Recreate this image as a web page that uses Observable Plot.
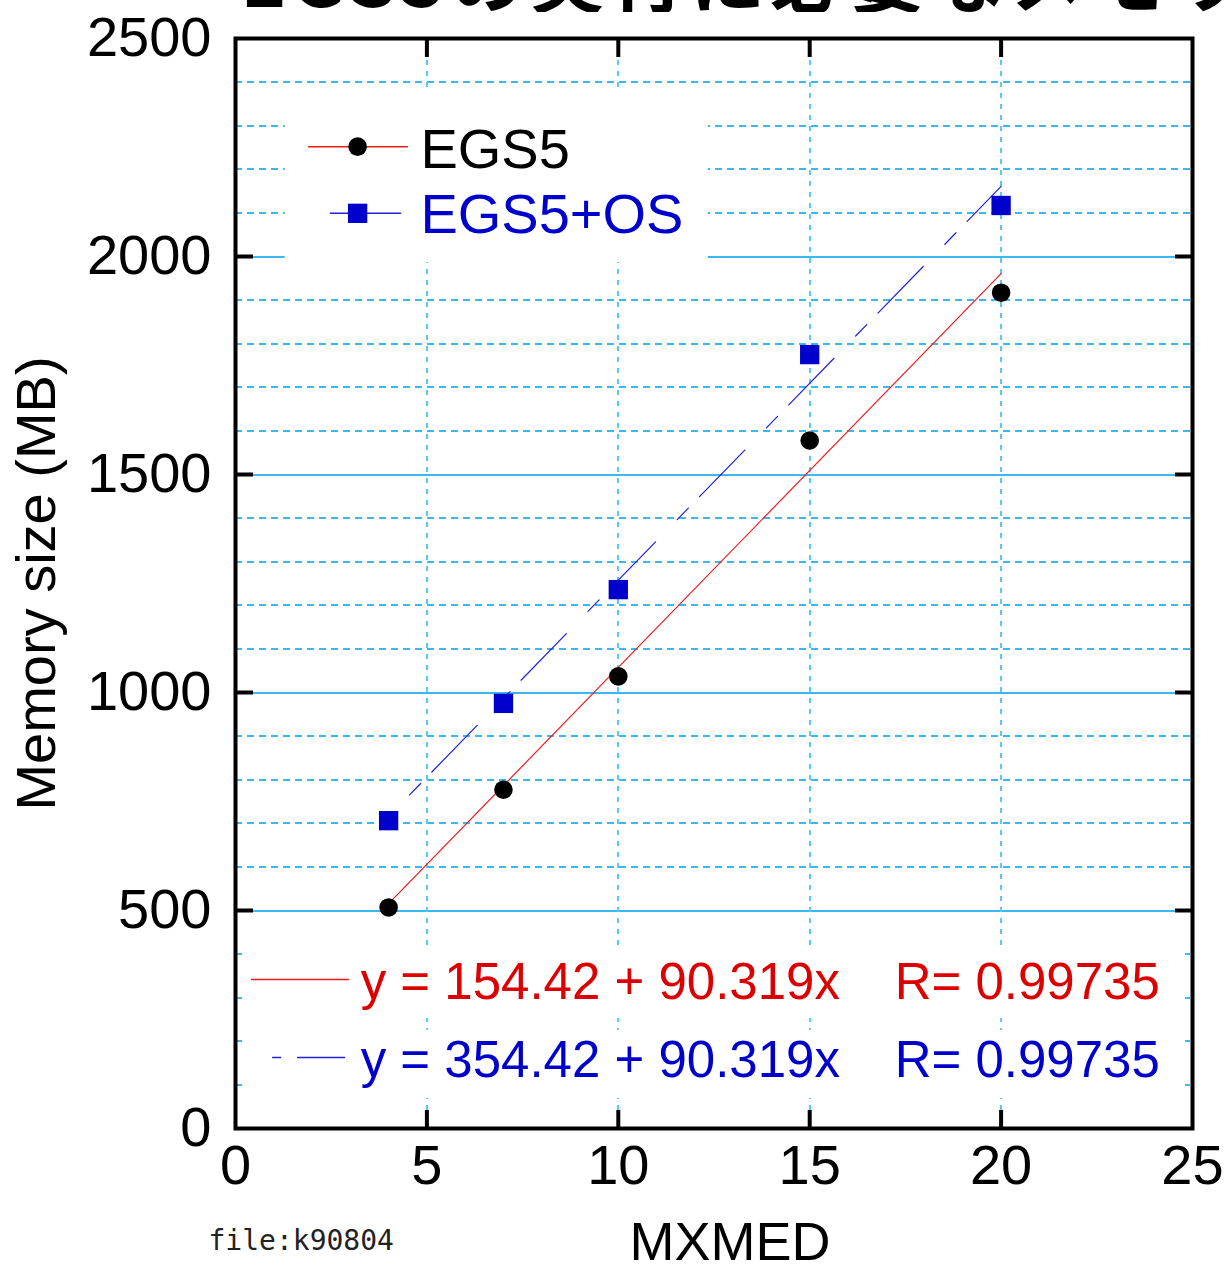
<!DOCTYPE html>
<html>
<head>
<meta charset="utf-8">
<script src="https://cdn.jsdelivr.net/npm/d3@7"></script>
<script src="https://cdn.jsdelivr.net/npm/@observablehq/plot@0.6"></script>
<style>
  html, body { margin: 0; padding: 0; background: #fff; }
  #wrap { position: relative; width: 1227px; height: 1270px; overflow: hidden; }
  #title { position: absolute; left: 0; top: 0; width: 1227px; height: 12px; overflow: hidden; z-index: 2; }
  #title span { position: absolute; left: 240px; top: -64px; font: bold 76px "Noto Sans CJK JP"; letter-spacing: 4px; white-space: nowrap; color: #000; line-height: 1; }
  #chart { position: absolute; left: 0; top: 0; }
</style>
</head>
<body>
<div id="wrap">
  <div id="title"><span>EGS5の実行に必要なメモリ</span></div>
  <div id="chart"></div>
</div>
<script>
// ---- data ----
const xTicks = [0, 5, 10, 15, 20, 25];
const yTicks = [0, 500, 1000, 1500, 2000, 2500];
const xInner = [5, 10, 15, 20];
const yInner = [500, 1000, 1500, 2000];
const yMinor = [100, 200, 300, 400, 600, 700, 800, 900, 1100, 1200, 1300, 1400, 1600, 1700, 1800, 1900, 2100, 2200, 2300, 2400];
const mxmed = [4, 7, 10, 15, 20];
const egs5 = [507, 777, 1037, 1578, 1917];
const egs5os = [706, 975, 1236, 1775, 2117];
const seriesNames = ["EGS5", "EGS5+OS"];
const intercepts = [154.42, 354.42];
const slope = 90.319;
const rValues = [0.99735, 0.99735];
const fitRange = [4, 20];

const RED = "#ee1c1c", BLUE = "#0000cc", GRID = "#3ab9f0";
const dash = "65,31,16,16";

const pts = (ys) => mxmed.map((x, i) => ({x, y: ys[i]}));
const fit = (b) => fitRange.map(x => ({x, y: b + slope * x}));

const eqText = intercepts.map(b => `y = ${b.toFixed(2)} + ${slope}x`);
const rText = rValues.map(r => `R= ${r}`);
const fmt = d3.format("d");

const chart = Plot.plot({
  width: 1227,
  height: 1270,
  marginLeft: 235,
  marginRight: 35,
  marginTop: 38,
  marginBottom: 142,
  style: {fontFamily: "Liberation Sans, Arial, sans-serif", background: "white", color: "black"},
  x: {domain: [0, 25]},
  y: {domain: [0, 2500]},
  marks: [
    // grid
    Plot.ruleY(yMinor, {stroke: GRID, strokeWidth: 2, strokeDasharray: "7,5", shapeRendering: "crispEdges"}),
    Plot.ruleY(yInner, {stroke: GRID, strokeWidth: 2, shapeRendering: "crispEdges"}),
    Plot.ruleX(xInner, {stroke: "#5cc8f4", strokeWidth: 2, strokeDasharray: "5,6", shapeRendering: "crispEdges"}),
    // white boxes behind legend and equations
    Plot.rect([0], {x1: 1.3, x2: 12.35, y1: 1986, y2: 2374, fill: "white"}),
    Plot.rect([0], {x1: 0.26, x2: 24.82, y1: 252, y2: 417, fill: "white"}),
    Plot.rect([0], {x1: 0.26, x2: 24.82, y1: 69, y2: 225, fill: "white"}),
    // fit lines
    Plot.line(fit(intercepts[0]), {x: "x", y: "y", stroke: RED, strokeWidth: 1.2}),
    Plot.line(fit(intercepts[1]), {x: "x", y: "y", stroke: "#2020dd", strokeWidth: 1.2, strokeDasharray: dash, strokeDashoffset: 66}),
    // data points
    Plot.dot(pts(egs5), {x: "x", y: "y", r: 9.3, fill: "black"}),
    Plot.dot(pts(egs5os), {x: "x", y: "y", r: 10.9, symbol: "square", fill: BLUE}),
    // frame & inner ticks
    Plot.frame({stroke: "black", strokeWidth: 4}),
    Plot.axisX(xInner, {anchor: "bottom", tickSize: -18, strokeWidth: 4, text: null, label: null}),
    Plot.axisX(xInner, {anchor: "top", tickSize: -18, strokeWidth: 4, text: null, label: null}),
    Plot.axisY(yInner, {anchor: "left", tickSize: -18, strokeWidth: 4, text: null, label: null}),
    Plot.axisY(yInner, {anchor: "right", tickSize: -18, strokeWidth: 4, text: null, label: null}),
    // tick labels
    Plot.axisY(yTicks, {anchor: "left", tickSize: 0, tickPadding: 24, fontSize: 56, label: null, tickFormat: fmt}),
    Plot.axisX(xTicks, {anchor: "bottom", tickSize: 0, tickPadding: 16, fontSize: 56, label: null, tickFormat: fmt}),
    // axis titles
    Plot.text(["Memory size (MB)"], {frameAnchor: "left", dx: -198, rotate: -90, fontSize: 56, textAnchor: "middle", lineAnchor: "middle"}),
    Plot.text(["MXMED"], {frameAnchor: "bottom", dx: 16, dy: 114, fontSize: 54, textAnchor: "middle", lineAnchor: "middle"}),
    Plot.text(["file:k90804"], {frameAnchor: "bottom-left", dx: -27, dy: 113, fontSize: 28, textAnchor: "start", lineAnchor: "middle", fontFamily: "DejaVu Sans Mono", fill: "#222"}),
    // legend
    Plot.line([{x: 1.91, y: 2252}, {x: 4.49, y: 2252}], {x: "x", y: "y", stroke: RED, strokeWidth: 1.5}),
    Plot.dot([{x: 3.19, y: 2252}], {x: "x", y: "y", r: 9.3, fill: "black"}),
    Plot.text([seriesNames[0]], {x: 4.83, y: 2243, fontSize: 56, textAnchor: "start", lineAnchor: "middle", fill: "black"}),
    Plot.line([{x: 2.48, y: 2099}, {x: 4.31, y: 2099}], {x: "x", y: "y", stroke: "#2020dd", strokeWidth: 1.5}),
    Plot.dot([{x: 3.19, y: 2099}], {x: "x", y: "y", r: 10.9, symbol: "square", fill: BLUE}),
    Plot.text([seriesNames[1]], {x: 4.83, y: 2095, fontSize: 56, textAnchor: "start", lineAnchor: "middle", fill: BLUE}),
    // equations
    Plot.line([{x: 0.42, y: 342}, {x: 2.95, y: 342}], {x: "x", y: "y", stroke: RED, strokeWidth: 1.5}),
    Plot.text([eqText[0]], {x: 3.27, y: 335, fontSize: 51, textAnchor: "start", lineAnchor: "middle", fill: "#dd0000"}),
    Plot.text([rText[0]], {x: 17.22, y: 335, fontSize: 51, textAnchor: "start", lineAnchor: "middle", fill: "#dd0000"}),
    Plot.line([{x: 0.97, y: 163}, {x: 2.85, y: 163}], {x: "x", y: "y", stroke: "#2020dd", strokeWidth: 1.5, strokeDasharray: "8,17,60,20"}),
    Plot.text([eqText[1]], {x: 3.27, y: 156, fontSize: 51, textAnchor: "start", lineAnchor: "middle", fill: BLUE}),
    Plot.text([rText[1]], {x: 17.22, y: 156, fontSize: 51, textAnchor: "start", lineAnchor: "middle", fill: BLUE})
  ]
});
document.getElementById("chart").appendChild(chart);
</script>
</body>
</html>
